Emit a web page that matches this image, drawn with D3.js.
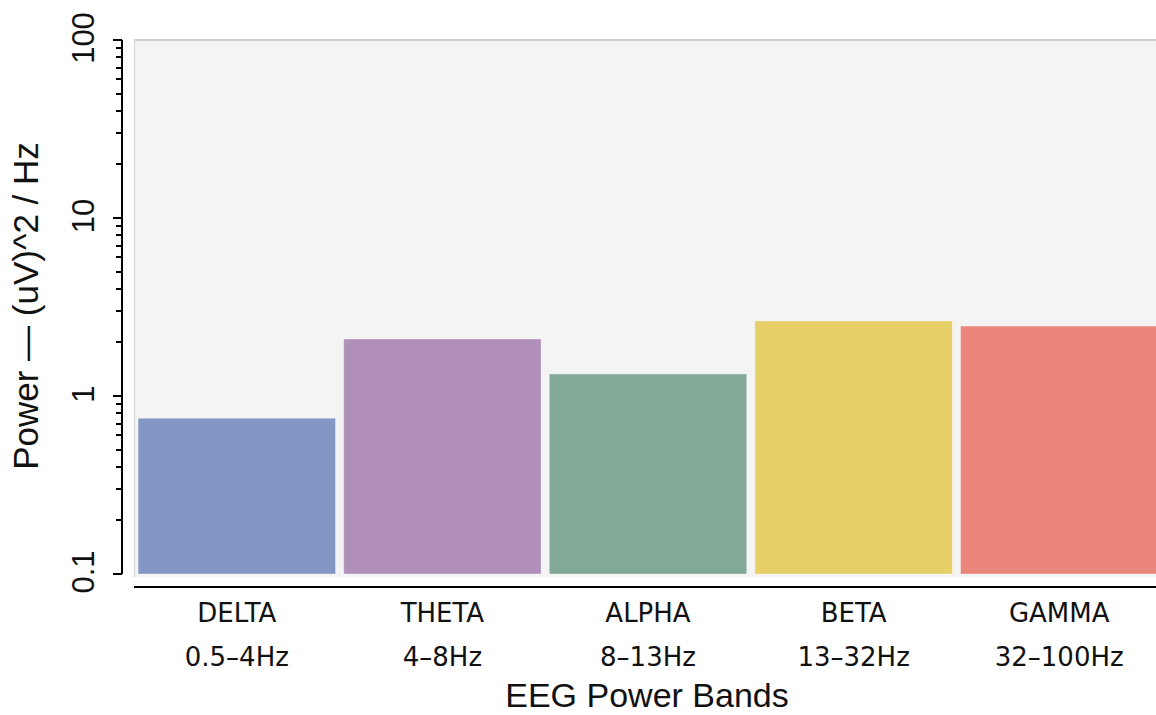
<!DOCTYPE html>
<html>
<head>
<meta charset="utf-8">
<script src="https://cdn.jsdelivr.net/npm/d3@7"></script>
<style>
  html, body { margin: 0; padding: 0; background: #fff; }
  svg { display: block; }
</style>
</head>
<body>
<svg id="chart" width="1156" height="715"></svg>
<script>
// EEG band power (log scale)
const bands = ["DELTA", "THETA", "ALPHA", "BETA", "GAMMA"];
const ranges = ["0.5–4Hz", "4–8Hz", "8–13Hz", "13–32Hz", "32–100Hz"];
const power = [0.75, 2.09, 1.33, 2.64, 2.47];
const colors = ["#8497c4", "#b08fb9", "#82a898", "#e6cf67", "#ea867b"];
const yTicks = [0.1, 1, 10, 100];

const svg = d3.select("#chart");
const plot = { left: 134, right: 1162, top: 40, bottom: 574 };

const x = d3.scaleBand()
  .domain(bands)
  .range([plot.left, plot.right])
  .paddingInner(0.04)
  .paddingOuter(0.02);

const y = d3.scaleLog()
  .domain([0.1, 100])
  .range([plot.bottom, plot.top]);

// plot background
svg.append("rect")
  .attr("x", plot.left).attr("y", plot.top)
  .attr("width", plot.right - plot.left).attr("height", plot.bottom - plot.top + 3)
  .attr("fill", "#f4f4f4");
svg.append("line")
  .attr("x1", plot.left).attr("x2", plot.right)
  .attr("y1", plot.top).attr("y2", plot.top)
  .attr("stroke", "#cfcfcf").attr("stroke-width", 2);
svg.append("line")
  .attr("x1", plot.left + 0.5).attr("x2", plot.left + 0.5)
  .attr("y1", plot.top).attr("y2", plot.bottom + 3)
  .attr("stroke", "#dcdcdc").attr("stroke-width", 1.5);

// bars
svg.append("g").selectAll("rect")
  .data(bands)
  .join("rect")
  .attr("x", (d) => x(d))
  .attr("width", x.bandwidth())
  .attr("y", (d, i) => y(power[i]))
  .attr("height", (d, i) => y(0.1) - y(power[i]))
  .attr("fill", (d, i) => colors[i])
  .attr("stroke", "rgba(255,255,255,0.35)")
  .attr("stroke-width", 1);

// y axis with minor ticks
const minorTicks = [];
for (let e = -1; e < 2; e++) {
  for (let k = 2; k <= 9; k++) minorTicks.push(k * Math.pow(10, e));
}
const yAxisG = svg.append("g").attr("transform", "translate(122,0)");
yAxisG.append("line")
  .attr("y1", y(0.1)).attr("y2", y(100))
  .attr("stroke", "#000").attr("stroke-width", 2);
yAxisG.selectAll("line.major")
  .data(yTicks)
  .join("line").attr("class", "major")
  .attr("x1", -9).attr("x2", 0)
  .attr("y1", (d) => y(d)).attr("y2", (d) => y(d))
  .attr("stroke", "#000").attr("stroke-width", 2);
yAxisG.selectAll("line.minor")
  .data(minorTicks)
  .join("line").attr("class", "minor")
  .attr("x1", -6).attr("x2", 0)
  .attr("y1", (d) => Math.round(y(d))).attr("y2", (d) => Math.round(y(d)))
  .attr("stroke", "#000").attr("stroke-width", 2);
yAxisG.selectAll("text")
  .data(yTicks)
  .join("text")
  .attr("transform", (d) => `translate(-39,${y(d) - 2}) rotate(-90)`)
  .attr("text-anchor", "middle")
  .attr("dominant-baseline", "central")
  .attr("font-family", "Liberation Sans, Arial, sans-serif")
  .attr("font-size", 31)
  .attr("fill", "#111")
  .text((d) => d3.format("~g")(d));

// x axis line
svg.append("line")
  .attr("x1", plot.left).attr("x2", 1156)
  .attr("y1", 587).attr("y2", 587)
  .attr("stroke", "#000").attr("stroke-width", 2);

// category labels
const xl = svg.append("g");
xl.selectAll("text.band")
  .data(bands)
  .join("text").attr("class", "band")
  .attr("x", (d) => x(d) + x.bandwidth() / 2)
  .attr("y", 622)
  .attr("text-anchor", "middle")
  .attr("font-family", "DejaVu Sans, Verdana, sans-serif")
  .attr("font-size", 26)
  .attr("fill", "#111")
  .text((d) => d);
xl.selectAll("text.range")
  .data(ranges)
  .join("text").attr("class", "range")
  .attr("x", (d, i) => x(bands[i]) + x.bandwidth() / 2)
  .attr("y", 666)
  .attr("text-anchor", "middle")
  .attr("font-family", "DejaVu Sans, Verdana, sans-serif")
  .attr("font-size", 26)
  .attr("fill", "#111")
  .text((d) => d);

// axis titles
svg.append("text")
  .attr("x", 647).attr("y", 707)
  .attr("text-anchor", "middle")
  .attr("font-family", "Liberation Sans, Arial, sans-serif")
  .attr("font-size", 34)
  .attr("fill", "#111")
  .text("EEG Power Bands");
svg.append("text")
  .attr("transform", "translate(25,306) rotate(-90)")
  .attr("text-anchor", "middle")
  .attr("dominant-baseline", "central")
  .attr("font-family", "Liberation Sans, Arial, sans-serif")
  .attr("font-size", 35)
  .attr("fill", "#111")
  .text("Power — (uV)^2 / Hz");
</script>
</body>
</html>
